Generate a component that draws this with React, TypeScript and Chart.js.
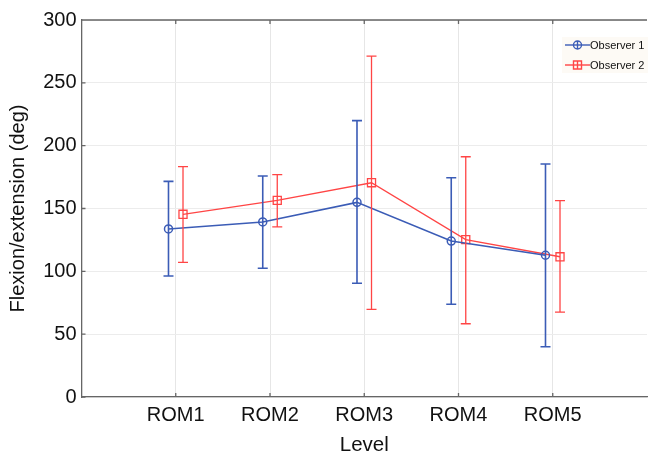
import React, { useEffect, useRef } from "react";
import { Chart, registerables } from "chart.js";

Chart.register(...registerables);

const categories = ["ROM1", "ROM2", "ROM3", "ROM4", "ROM5"];
const yTicks = [0, 50, 100, 150, 200, 250, 300];

const obs1Mean = [133.7, 139.3, 154.9, 124.1, 112.8];
const obs1Upper = [171.6, 175.9, 219.9, 174.5, 185.4];
const obs1Lower = [96.3, 102.4, 90.5, 73.8, 40.0];

const obs2Mean = [145.4, 156.5, 170.5, 125.2, 111.6];
const obs2Upper = [183.3, 176.9, 271.3, 191.2, 156.2];
const obs2Lower = [107.2, 135.3, 69.8, 58.3, 67.6];

const seriesNames = ["Observer 1", "Observer 2"];
const BLUE = "#3b5cb6";
const RED = "#ff4545";
const DODGE = 0.077;
const FONT = "'Liberation Sans', Arial, sans-serif";

function drawMarker(ctx: CanvasRenderingContext2D, kind: string, x: number, y: number, color: string, cross: boolean) {
  ctx.save();
  ctx.strokeStyle = color;
  ctx.lineWidth = 1.4;
  ctx.beginPath();
  if (kind === "circle") {
    ctx.arc(x, y, 4, 0, Math.PI * 2);
  } else {
    ctx.rect(x - 4, y - 4, 8, 8);
  }
  ctx.stroke();
  if (cross) {
    ctx.beginPath();
    ctx.moveTo(x, y - 4);
    ctx.lineTo(x, y + 4);
    ctx.stroke();
  }
  ctx.restore();
}

const errorBarPlugin = {
  id: "errorBars",
  afterDatasetsDraw(chart: any) {
    const { ctx, scales } = chart;
    const xs = scales.x;
    const ys = scales.y;
    chart.data.datasets.forEach((ds: any) => {
      ctx.save();
      ctx.strokeStyle = ds.borderColor;
      ctx.lineWidth = ds.errWidth;
      ds.data.forEach((p: any, i: number) => {
        const x = xs.getPixelForValue(p.x);
        const yU = ys.getPixelForValue(ds.upper[i]);
        const yL = ys.getPixelForValue(ds.lower[i]);
        ctx.beginPath();
        ctx.moveTo(x, yU);
        ctx.lineTo(x, yL);
        ctx.moveTo(x - 5, yU);
        ctx.lineTo(x + 5, yU);
        ctx.moveTo(x - 5, yL);
        ctx.lineTo(x + 5, yL);
        ctx.stroke();
      });
      ctx.restore();
    });
  },
};

const framePlugin = {
  id: "frame",
  afterDraw(chart: any) {
    const { ctx, chartArea, scales } = chart;
    ctx.save();
    ctx.strokeStyle = "#666666";
    ctx.lineWidth = 1.3;
    ctx.beginPath();
    ctx.moveTo(chartArea.left, chartArea.top);
    ctx.lineTo(chartArea.right, chartArea.top);
    // inward ticks
    categories.forEach((_, i) => {
      const x = scales.x.getPixelForValue(i + 1);
      ctx.moveTo(x, chartArea.bottom);
      ctx.lineTo(x, chartArea.bottom - 4);
      ctx.moveTo(x, chartArea.top);
      ctx.lineTo(x, chartArea.top + 4);
    });
    yTicks.forEach((v) => {
      const y = scales.y.getPixelForValue(v);
      ctx.moveTo(chartArea.left, y);
      ctx.lineTo(chartArea.left + 4, y);
    });
    ctx.stroke();

    // legend
    const lx = 565;
    const rows = [45, 65];
    ctx.fillStyle = "rgba(250,240,222,0.3)";
    ctx.fillRect(lx - 3, rows[0] - 8, 86, rows[1] - rows[0] + 16);
    chart.data.datasets.forEach((ds: any, k: number) => {
      const y = rows[k];
      ctx.strokeStyle = ds.borderColor;
      ctx.lineWidth = 1.4;
      ctx.beginPath();
      ctx.moveTo(lx, y);
      ctx.lineTo(lx + 25, y);
      ctx.stroke();
      drawMarker(ctx, ds.markerKind, lx + 12.5, y, ds.borderColor, true);
      ctx.fillStyle = "#111111";
      ctx.font = `11px ${FONT}`;
      ctx.textAlign = "left";
      ctx.textBaseline = "middle";
      ctx.fillText(ds.label, lx + 25, y + 0.5);
    });
    ctx.restore();
  },
};

export default function App() {
  const ref = useRef<HTMLCanvasElement | null>(null);

  useEffect(() => {
    if (!ref.current) return;
    document.body.style.overflow = "hidden";
    const chart = new Chart(ref.current, {
      type: "line",
      data: {
        datasets: [
          {
            label: seriesNames[0],
            data: categories.map((_, i) => ({ x: i + 1 - DODGE, y: obs1Mean[i] })),
            upper: obs1Upper,
            lower: obs1Lower,
            errWidth: 1.6,
            markerKind: "circle",
            borderColor: BLUE,
            backgroundColor: "rgba(0,0,0,0)",
            borderWidth: 1.6,
            pointStyle: "circle",
            pointRadius: 4,
            pointBorderWidth: 1.5,
            pointBackgroundColor: "rgba(0,0,0,0)",
            tension: 0,
          } as any,
          {
            label: seriesNames[1],
            data: categories.map((_, i) => ({ x: i + 1 + DODGE, y: obs2Mean[i] })),
            upper: obs2Upper,
            lower: obs2Lower,
            errWidth: 1.3,
            markerKind: "rect",
            borderColor: RED,
            backgroundColor: "rgba(0,0,0,0)",
            borderWidth: 1.3,
            pointStyle: "rect",
            pointRadius: 5.7,
            pointBorderWidth: 1.3,
            pointBackgroundColor: "rgba(0,0,0,0)",
            tension: 0,
          } as any,
        ],
      },
      options: {
        animation: false,
        responsive: false,
        maintainAspectRatio: false,
        layout: { padding: { top: 20, left: 0, right: 0, bottom: 0 } },
        plugins: {
          legend: { display: false },
          tooltip: { enabled: false },
        },
        scales: {
          x: {
            type: "linear",
            min: 0,
            max: 6,
            afterFit: (s: any) => {
              s.height = 59;
            },
            afterBuildTicks: (s: any) => {
              s.ticks = categories.map((_, i) => ({ value: i + 1 }));
            },
            ticks: {
              color: "#111111",
              font: { family: FONT, size: 20 },
              padding: 6,
              maxRotation: 0,
              autoSkip: false,
              callback: (v: any) => categories[Number(v) - 1] ?? "",
            },
            grid: { color: "#e6e6e6", lineWidth: 1, drawTicks: false },
            border: { color: "#666666", width: 1.3 },
            title: {
              display: true,
              text: "Level",
              color: "#111111",
              font: { family: FONT, size: 20.5 },
              padding: { top: 0, bottom: -2 },
            },
          },
          y: {
            min: 0,
            max: 300,
            afterFit: (s: any) => {
              s.width = 81.5;
            },
            afterBuildTicks: (s: any) => {
              s.ticks = yTicks.map((v) => ({ value: v }));
            },
            ticks: {
              color: "#111111",
              font: { family: FONT, size: 20 },
              padding: 5,
            },
            grid: { color: "#ececec", lineWidth: 1, drawTicks: false },
            border: { color: "#666666", width: 1.3 },
            title: {
              display: true,
              text: "Flexion/extension (deg)",
              color: "#111111",
              font: { family: FONT, size: 20 },
              padding: { top: 6, bottom: 0 },
            },
          },
        },
      } as any,
      plugins: [errorBarPlugin, framePlugin],
    });
    return () => chart.destroy();
  }, []);

  return (
    <div style={{ position: "fixed", left: 0, top: 0, width: 650, height: 456, overflow: "hidden", background: "#ffffff" }}>
      <canvas ref={ref} width={654} height={456} style={{ width: 654, height: 456, display: "block" }} />
    </div>
  );
}
